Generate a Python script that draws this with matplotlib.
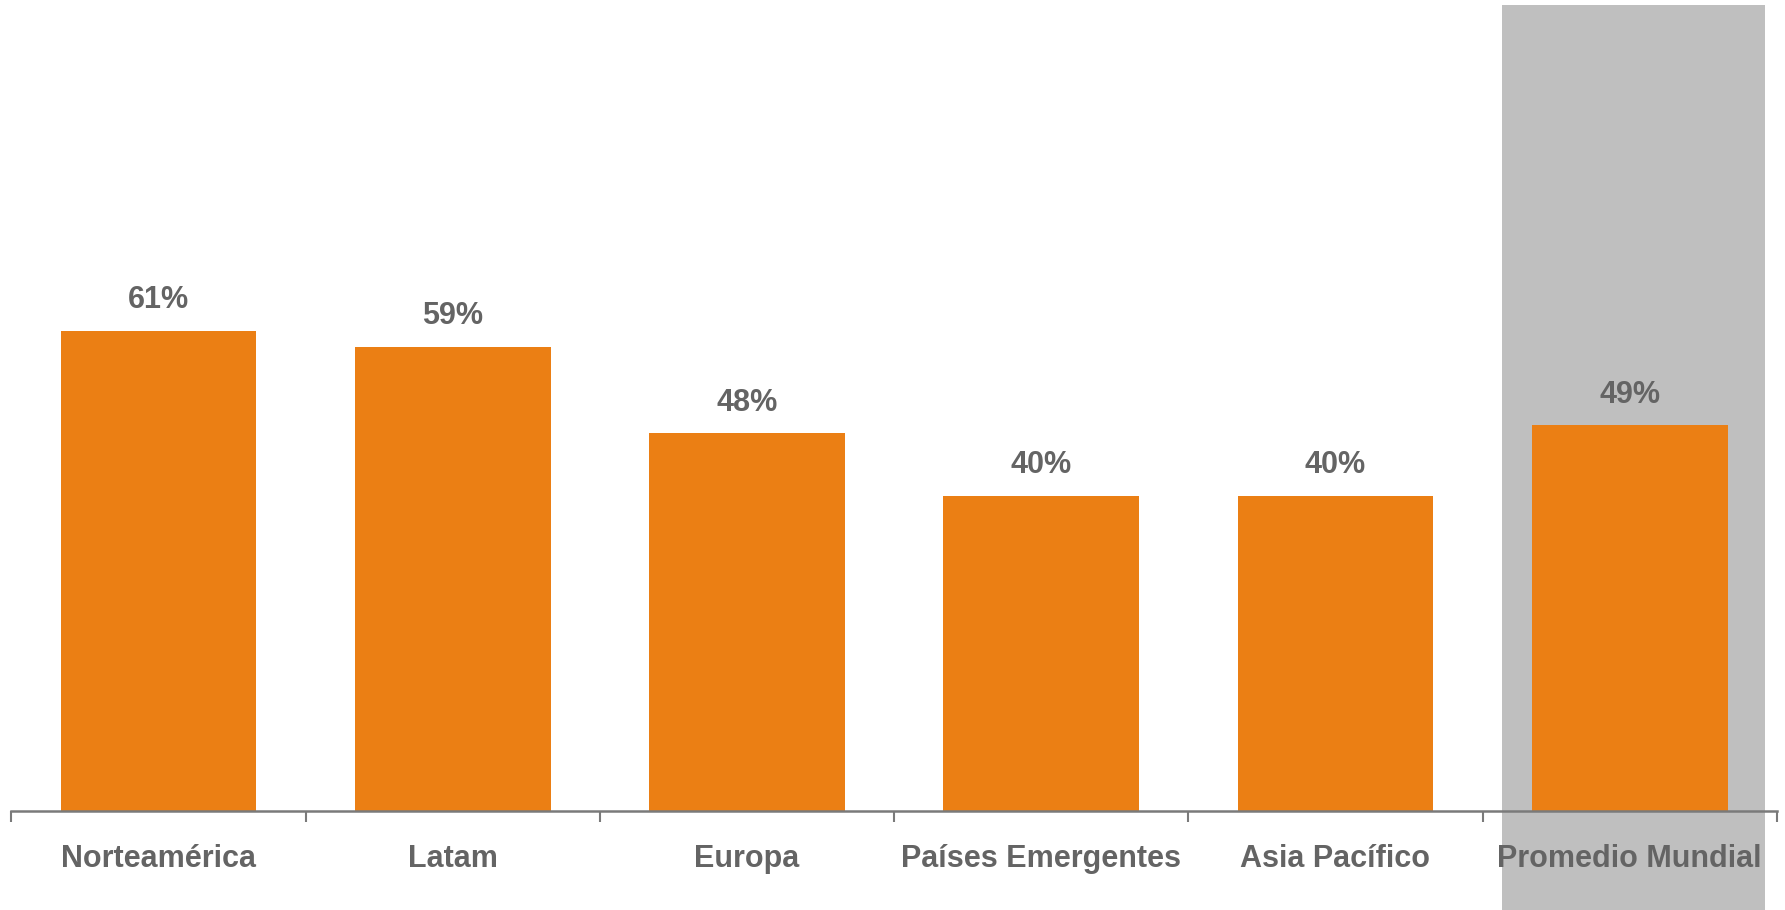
import matplotlib.pyplot as plt
from matplotlib.patches import Rectangle
import matplotlib.transforms as mtransforms

categories = ["Norteamérica", "Latam", "Europa", "Países Emergentes", "Asia Pacífico", "Promedio Mundial"]
values = [61, 59, 48, 40, 40, 49]
labels = ["61%", "59%", "48%", "40%", "40%", "49%"]

orange = "#EB7F14"
txt = "#646464"

plt.rcParams['font.family'] = ['Liberation Sans', 'DejaVu Sans']

fig = plt.figure(figsize=(17.85, 9.10), dpi=100)
ax = fig.add_axes([0.0064, 0.109, 0.989, 0.885])

x = list(range(len(categories)))

# gray highlight behind the last category, running down past the axis
trans = mtransforms.blended_transform_factory(ax.transData, ax.transAxes)
ax.add_patch(Rectangle((x[-1] - 0.435, -0.125), 0.895, 1.125, transform=trans,
                       facecolor="#BFBFBF", edgecolor="none", clip_on=False, zorder=0))

ax.bar(x, values, width=0.665, color=orange, zorder=2)
for xi, v, lab in zip(x, values, labels):
    ax.text(xi, v + 2.0, lab, ha="center", va="bottom", fontsize=22,
            fontweight="bold", color=txt)

ax.set_xlim(-0.5, 5.5)
ax.set_ylim(0, 102.4)

for s in ["top", "right", "left"]:
    ax.spines[s].set_visible(False)
ax.spines["bottom"].set_color("#7a7a7a")
ax.spines["bottom"].set_linewidth(1.8)
ax.spines["bottom"].set_zorder(3)

ax.set_yticks([])
ax.set_xticks(x)
ax.set_xticklabels(categories, fontsize=22, fontweight="bold", color=txt)
ax.tick_params(axis="x", which="major", length=0, pad=24)
ax.set_xticks([i - 0.5 for i in range(len(categories) + 1)], minor=True)
ax.tick_params(axis="x", which="minor", length=8, width=1.5, color="#7a7a7a", direction="out")
ax.patch.set_alpha(0)

fig.savefig("out.png", dpi=100)
